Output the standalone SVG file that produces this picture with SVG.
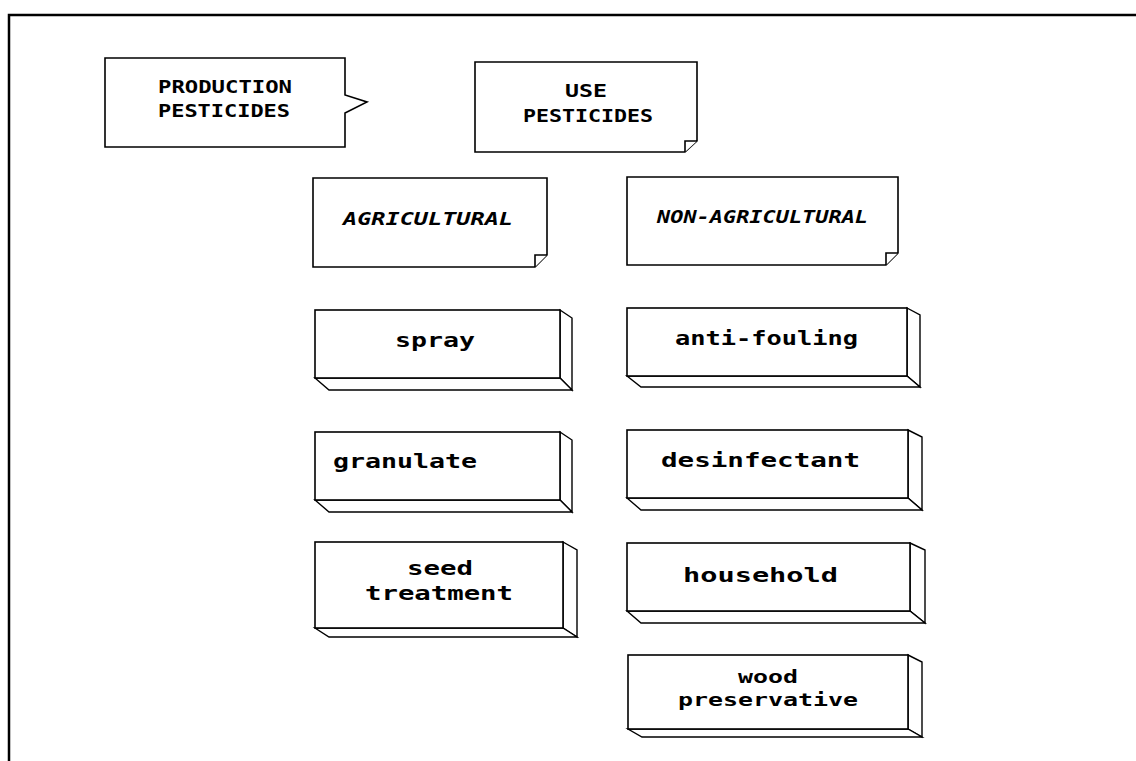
<svg xmlns="http://www.w3.org/2000/svg" width="1136" height="761" viewBox="0 0 1136 761">
  <style>
    .frame { fill: none; stroke: #000; stroke-width: 2.5; }
    .box { fill: #fff; stroke: #000; stroke-width: 1.6; stroke-linejoin: miter; }
    .side { fill: #fff; stroke: #000; stroke-width: 1.4; }
    text { fill: #000; font-family: "DejaVu Sans Mono", "Liberation Mono", monospace; font-weight: bold; }
    .cap { font-size: 17px; }
    .ital { font-style: italic; font-size: 18px; }
    .low { font-size: 20px; }
    .tight { font-size: 17px; }
  </style>

  <!-- outer frame (open at right and bottom) -->
  <polyline class="frame" points="9,761 9,15 1136,15"/>

  <!-- speech-bubble card -->
  <g id="production">
    <path class="box" d="M105,58 H345 V95 L367,102 L345,113 V147 H105 Z"/>
    <text class="cap" x="158" y="93" textLength="134" lengthAdjust="spacingAndGlyphs">PRODUCTION</text>
    <text class="cap" x="158" y="117" textLength="132" lengthAdjust="spacingAndGlyphs">PESTICIDES</text>
  </g>

  <!-- folded-corner cards -->
  <g id="use">
    <path class="box" d="M475,62 H697 V141 L685,152 H475 Z"/>
    <path class="box" d="M685,152 V141 H697"/>
    <text class="cap" x="565" y="97" textLength="42" lengthAdjust="spacingAndGlyphs">USE</text>
    <text class="cap" x="523" y="122" textLength="130" lengthAdjust="spacingAndGlyphs">PESTICIDES</text>
  </g>

  <g id="agricultural">
    <path class="box" d="M313,178 H547 V255 L535,267 H313 Z"/>
    <path class="box" d="M535,267 V255 H547"/>
    <text class="ital" x="343" y="225" textLength="170" lengthAdjust="spacingAndGlyphs">AGRICULTURAL</text>
  </g>

  <g id="non-agricultural">
    <path class="box" d="M627,177 H898 V253 L886,265 H627 Z"/>
    <path class="box" d="M886,265 V253 H898"/>
    <text class="ital" x="657" y="223" textLength="211" lengthAdjust="spacingAndGlyphs">NON-AGRICULTURAL</text>
  </g>

  <!-- 3D slabs, agricultural column -->
  <g id="spray">
    <path class="side" d="M560,310 L572,318 V390 L560,378 Z"/>
    <path class="side" d="M315,378 H560 L572,390 H329 Z"/>
    <rect class="box" x="315" y="310" width="245" height="68"/>
    <text class="low" x="395" y="347" textLength="80" lengthAdjust="spacingAndGlyphs">spray</text>
  </g>

  <g id="granulate">
    <path class="side" d="M560,432 L572,440 V512 L560,500 Z"/>
    <path class="side" d="M315,500 H560 L572,512 H329 Z"/>
    <rect class="box" x="315" y="432" width="245" height="68"/>
    <text class="low" x="333" y="468" textLength="144" lengthAdjust="spacingAndGlyphs">granulate</text>
  </g>

  <g id="seed-treatment">
    <path class="side" d="M563,542 L577,550 V637 L563,628 Z"/>
    <path class="side" d="M315,628 H563 L577,637 H329 Z"/>
    <rect class="box" x="315" y="542" width="248" height="86"/>
    <text class="low" x="407" y="575" textLength="66" lengthAdjust="spacingAndGlyphs">seed</text>
    <text class="low" x="365" y="600" textLength="148" lengthAdjust="spacingAndGlyphs">treatment</text>
  </g>

  <!-- 3D slabs, non-agricultural column -->
  <g id="anti-fouling">
    <path class="side" d="M907,308 L920,315 V387 L907,376 Z"/>
    <path class="side" d="M627,376 H907 L920,387 H641 Z"/>
    <rect class="box" x="627" y="308" width="280" height="68"/>
    <text class="low" x="675" y="345" textLength="183" lengthAdjust="spacingAndGlyphs">anti-fouling</text>
  </g>

  <g id="desinfectant">
    <path class="side" d="M908,430 L922,437 V510 L908,498 Z"/>
    <path class="side" d="M627,498 H908 L922,510 H641 Z"/>
    <rect class="box" x="627" y="430" width="281" height="68"/>
    <text class="low" x="661" y="467" textLength="199" lengthAdjust="spacingAndGlyphs">desinfectant</text>
  </g>

  <g id="household">
    <path class="side" d="M910,543 L925,550 V623 L910,611 Z"/>
    <path class="side" d="M627,611 H910 L925,623 H641 Z"/>
    <rect class="box" x="627" y="543" width="283" height="68"/>
    <text class="low" x="683" y="582" textLength="155" lengthAdjust="spacingAndGlyphs">household</text>
  </g>

  <g id="wood-preservative">
    <path class="side" d="M908,655 L922,662 V737 L908,729 Z"/>
    <path class="side" d="M628,729 H908 L922,737 H642 Z"/>
    <rect class="box" x="628" y="655" width="280" height="74"/>
    <text class="tight" x="738" y="683" textLength="60" lengthAdjust="spacingAndGlyphs">wood</text>
    <text class="tight" x="678" y="706" textLength="180" lengthAdjust="spacingAndGlyphs">preservative</text>
  </g>
</svg>
